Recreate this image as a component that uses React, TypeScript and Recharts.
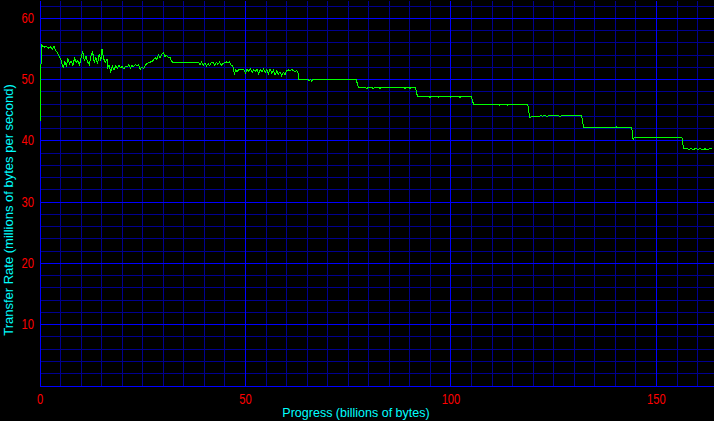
import React from 'react';
import { LineChart, Line, XAxis, YAxis, ReferenceLine } from 'recharts';

const progress = [
  0, 0.05, 0.3, 0.45, 1.0, 1.5, 2.0, 2.5, 3.0, 3.4, 3.7, 4.2, 4.7, 5.1, 5.4, 5.7, 6.0, 6.4, 6.8, 7.2,
  7.6, 8.0, 8.4, 8.8, 9.2, 9.6, 10.0, 10.4, 10.8, 11.2, 11.6, 12.0, 12.4, 12.8, 13.2, 13.6, 14.0, 14.4, 14.8, 15.1,
  15.5, 15.9, 16.3, 16.5, 16.8, 17.2, 17.6, 18.0, 18.4, 18.8, 19.2, 19.6, 20.0, 20.4, 20.8, 21.2, 21.6, 22.0, 22.4, 22.8,
  23.2, 23.6, 24.0, 24.4, 24.8, 25.2, 25.6, 26.0, 26.5, 27.0, 27.5, 28.0, 28.4, 28.8, 29.2, 29.6, 30.0, 30.4, 30.8, 31.2,
  31.6, 31.9, 32.3, 38.6, 38.9, 39.3, 39.7, 40.1, 40.5, 40.9, 41.3, 41.7, 42.1, 42.5, 42.9, 43.3, 43.7, 44.1, 44.5, 44.9,
  45.3, 45.7, 46.1, 46.5, 46.9, 47.3, 47.6, 48.0, 48.4, 48.8, 49.2, 49.6, 50.0, 50.4, 50.8, 51.2, 51.6, 52.0, 52.4, 52.8,
  53.2, 53.6, 54.0, 54.4, 54.8, 55.2, 55.6, 56.0, 56.4, 56.8, 57.2, 57.6, 58.0, 58.4, 58.8, 59.2, 59.6, 60.0, 60.4, 60.8,
  61.2, 61.6, 62.0, 62.5, 62.8, 63.0, 65.2, 65.5, 65.8, 66.1, 66.4, 77.0, 77.2, 77.5, 79.3, 79.5, 79.7, 80.9, 81.1, 81.3,
  82.5, 82.7, 82.9, 88.6, 88.8, 89.0, 89.8, 90.0, 90.2, 91.4, 91.6, 91.9, 94.7, 94.9, 95.1, 96.7, 96.9, 97.1, 99.6, 99.8,
  100.0, 102.0, 102.2, 102.4, 105.0, 105.2, 105.5, 110.7, 111.0, 111.4, 111.8, 112.2, 112.7, 113.2, 113.8, 114.4, 116.3, 116.6, 117.0, 117.5,
  118.0, 118.7, 118.9, 119.2, 119.6, 121.5, 121.8, 122.2, 122.8, 123.4, 124.0, 124.6, 125.2, 126.0, 126.4, 127.8, 131.8, 132.0, 132.3, 140.0,
  140.2, 140.4, 144.0, 144.2, 144.35, 144.6, 156.2, 156.4, 156.7, 157.5, 157.9, 158.4, 159.0, 159.5, 160.1, 160.6, 161.2, 161.8, 162.4, 163.0,
  163.5,
];

const rate = [
  42.7, 47.7, 53.9, 55.6, 55.3, 55.5, 55.1, 55.4, 55.0, 55.5, 54.9, 54.4, 53.8, 53.3, 52.5, 51.9, 53.0, 52.2, 53.4, 52.6,
  53.0, 52.3, 53.5, 52.8, 53.1, 52.4, 53.6, 54.6, 53.0, 53.8, 52.9, 52.5, 53.8, 54.5, 52.9, 53.6, 52.6, 54.2, 53.1, 55.0,
  53.4, 52.8, 53.4, 52.0, 52.3, 51.3, 52.2, 51.6, 52.2, 51.9, 52.3, 52.0, 52.1, 51.8, 52.2, 52.1, 52.4, 51.9, 52.3, 52.1,
  52.5, 52.2, 52.4, 51.7, 52.1, 51.8, 52.3, 52.6, 52.8, 52.9, 53.1, 53.6, 53.3, 54.0, 53.5, 54.1, 54.4, 53.8, 54.0, 53.6,
  53.7, 53.2, 52.8, 52.8, 52.4, 52.9, 52.3, 52.7, 52.2, 52.6, 52.3, 52.8, 52.9, 52.4, 52.8, 52.5, 52.9, 52.3, 52.6, 52.8,
  52.9, 52.8, 52.9, 52.4, 52.2, 51.0, 51.6, 51.3, 51.7, 51.6, 51.7, 51.6, 51.1, 51.7, 51.3, 51.8, 51.2, 51.6, 51.4, 51.7,
  51.0, 51.6, 51.3, 51.7, 51.2, 51.6, 51.0, 51.7, 51.1, 51.5, 50.8, 51.4, 50.9, 51.3, 50.6, 51.2, 50.8, 51.5, 51.6, 51.4,
  51.7, 51.5, 51.3, 51.5, 51.0, 50.05, 50.05, 49.8, 50.05, 49.75, 50.05, 50.05, 49.3, 48.7, 48.7, 48.5, 48.7, 48.7, 48.5, 48.7,
  48.7, 48.5, 48.7, 48.7, 48.5, 48.7, 48.7, 48.5, 48.7, 48.7, 47.8, 47.3, 47.3, 47.1, 47.3, 47.3, 47.1, 47.3, 47.3, 47.1,
  47.3, 47.3, 47.1, 47.3, 47.3, 46.6, 46.0, 46.0, 45.85, 46.0, 45.85, 46.0, 45.85, 46.0, 45.85, 46.0, 46.0, 45.85, 46.0, 45.85,
  46.0, 46.0, 44.9, 43.8, 44.0, 44.0, 44.2, 44.0, 44.2, 44.0, 44.2, 44.05, 44.2, 44.2, 44.0, 44.2, 44.2, 43.2, 42.2, 42.2,
  42.35, 42.2, 42.2, 40.8, 40.1, 40.6, 40.6, 39.5, 38.7, 38.7, 38.6, 38.75, 38.6, 38.75, 38.6, 38.75, 38.6, 38.7, 38.6, 38.75,
  38.7,
];

const xTicks = [0, 50, 100, 150];
const yTicks = [10, 20, 30, 40, 50, 60];
const xMinor = [5, 10, 15, 20, 25, 30, 35, 40, 45, 55, 60, 65, 70, 75, 80, 85, 90, 95, 105, 110, 115, 120, 125, 130, 135, 140, 145, 155, 160];
const yMinor = [2, 4, 6, 8, 12, 14, 16, 18, 22, 24, 26, 28, 32, 34, 36, 38, 42, 44, 46, 48, 52, 54, 56, 58, 62];

const xTitle = 'Progress (billions of bytes)';
const yTitle = 'Transfer Rate (millions of bytes per second)';

const data = progress.map((p, i) => ({ progress: p, rate: rate[i] }));

const FONT = "'Liberation Sans', Arial, sans-serif";
const MAJOR = '#0000ff';
const MINOR = '#000090';
const TICK_RED = '#ff0000';
const TITLE_CYAN = '#00ffff';

const snap = (v: number) => Math.floor(v) + 0.5;

const SnappedLine = (props: any) => {
  const { x1, y1, x2, y2, stroke } = props;
  return (
    <line
      x1={snap(x1)}
      y1={snap(y1)}
      x2={snap(x2)}
      y2={snap(y2)}
      stroke={stroke}
      strokeWidth={1}
      shapeRendering="crispEdges"
    />
  );
};

const YTick = (props: any) => {
  const { x, y, payload } = props;
  return (
    <text
      x={x}
      y={y}
      fill={TICK_RED}
      fontSize={14}
      fontFamily={FONT}
      textAnchor="end"
      dominantBaseline="central"
      transform={`translate(${x},${y}) scale(0.8,1) translate(${-x},${-y})`}
    >
      {payload.value}
    </text>
  );
};

const XTick = (props: any) => {
  const { x, y, payload } = props;
  return (
    <text
      x={x}
      y={y}
      dy={11}
      fill={TICK_RED}
      fontSize={14}
      fontFamily={FONT}
      textAnchor="middle"
      transform={`translate(${x},${y}) scale(0.8,1) translate(${-x},${-y})`}
    >
      {payload.value}
    </text>
  );
};

export default function App() {
  return (
    <div style={{ position: 'fixed', left: 0, top: 0, width: 714, height: 421, background: '#000' }}>
      <style>{`.recharts-line-curve { shape-rendering: crispEdges; }`}</style>
      <LineChart width={714} height={421} data={data} margin={{ top: 0, right: 0, bottom: 0, left: 0 }}>
        <XAxis
          dataKey="progress"
          type="number"
          domain={[0, 164]}
          ticks={xTicks}
          allowDataOverflow
          height={35}
          axisLine={false}
          tickLine={false}
          tickSize={5}
          tickMargin={2}
          tick={<XTick />}
          label={{
            content: (props: any) => {
              const vb = props.viewBox;
              return (
                <text x={vb.x + vb.width / 2 - 21} y={vb.y + 31} fill={TITLE_CYAN} fontSize={12.5} fontFamily={FONT} textAnchor="middle">
                  {xTitle}
                </text>
              );
            },
          }}
        />
        <YAxis
          type="number"
          domain={[0, 63]}
          ticks={yTicks}
          allowDataOverflow
          width={40}
          axisLine={false}
          tickLine={false}
          tickSize={4}
          tickMargin={2}
          tick={<YTick />}
          label={{
            content: (props: any) => {
              const vb = props.viewBox;
              const cx = vb.x + 8;
              const cy = vb.y + vb.height / 2 + 17;
              return (
                <text x={cx} y={cy} fill={TITLE_CYAN} fontSize={13} fontFamily={FONT} textAnchor="middle" dominantBaseline="central" transform={`rotate(-90, ${cx}, ${cy})`}>
                  {yTitle}
                </text>
              );
            },
          }}
        />
        {xMinor.map((v) => (
          <ReferenceLine key={'xm' + v} x={v} stroke={MINOR} shape={SnappedLine} ifOverflow="hidden" />
        ))}
        {yMinor.map((v) => (
          <ReferenceLine key={'ym' + v} y={v} stroke={MINOR} shape={SnappedLine} ifOverflow="hidden" />
        ))}
        {xTicks.map((v) => (
          <ReferenceLine key={'xM' + v} x={v} stroke={MAJOR} shape={SnappedLine} ifOverflow="hidden" />
        ))}
        {[0, ...yTicks].map((v) => (
          <ReferenceLine key={'yM' + v} y={v} stroke={MAJOR} shape={SnappedLine} ifOverflow="extendDomain" />
        ))}
        <Line
          type="linear"
          dataKey="rate"
          stroke="#00ff00"
          strokeWidth={1}
          dot={false}
          isAnimationActive={false}
        />
      </LineChart>
    </div>
  );
}
